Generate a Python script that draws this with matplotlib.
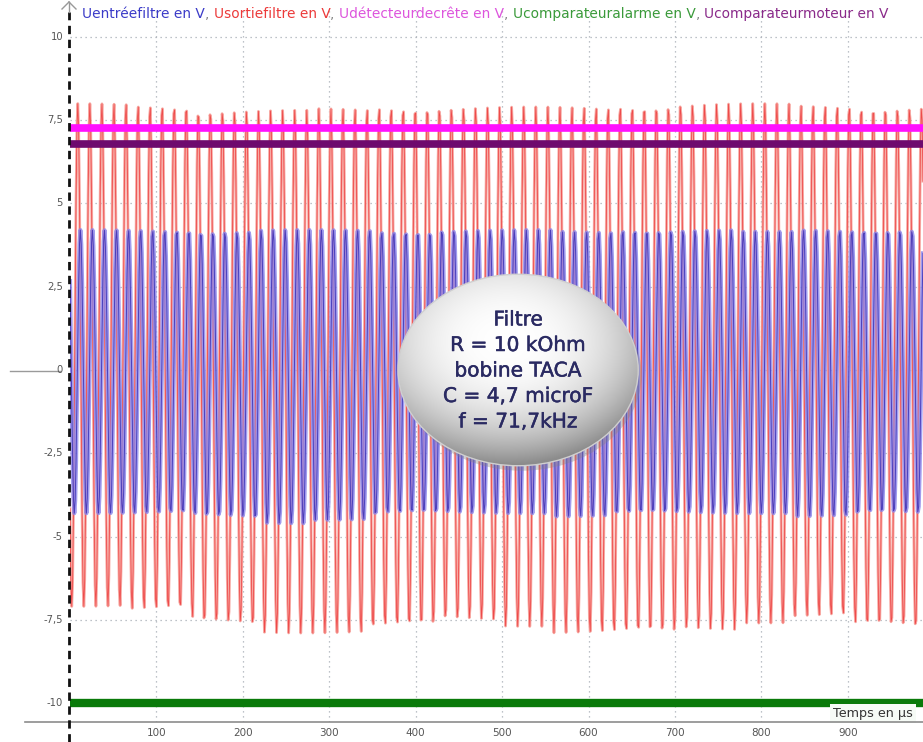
import numpy as np
import matplotlib
matplotlib.use("Agg")
import matplotlib.pyplot as plt
import matplotlib.patheffects as pe
from matplotlib.patches import Ellipse
from matplotlib.lines import Line2D

# ---------------- data ----------------
x_ticks = [100, 200, 300, 400, 500, 600, 700, 800, 900]
x_tick_labels = ["100", "200", "300", "400", "500", "600", "700", "800", "900"]
y_ticks = [-10, -7.5, -5, -2.5, 0, 2.5, 5, 7.5, 10]
y_tick_labels = ["-10", "-7,5", "-5", "-2,5", "0", "2,5", "5", "7,5", "10"]

freq_khz = 71.7            # signal frequency (from the annotation)
sample_step_us = 1.0       # acquisition step
t_end_us = 987.0
red_first_peak_us = 9.0
blue_first_peak_us = 12.0

# peak values, one value per group of 5 cycles
red_high = [8.0, 7.95, 7.8, 7.8, 7.85, 7.9, 7.9, 7.9, 7.9, 7.95, 8.0, 8.0, 7.95, 7.9, 7.9]
red_low = [-7.1, -7.2, -7.6, -7.9, -7.9, -7.7, -7.5, -7.7, -7.9, -7.9, -7.8, -7.6, -7.4, -7.7, -7.9]
blue_high = [4.2, 4.2, 4.15, 4.2, 4.2, 4.15, 4.2, 4.2, 4.15, 4.2, 4.2, 4.15, 4.2, 4.2, 4.2]
blue_low = [-4.3, -4.3, -4.4, -4.6, -4.5, -4.3, -4.3, -4.3, -4.4, -4.3, -4.3, -4.3, -4.4, -4.3, -4.3]

u_detecteur = 7.28
u_moteur = 6.78
u_alarme = -10.0

legend_parts = [
    ("Uentréefiltre en V", "#3b3bc8"),
    (", ", "#888888"),
    ("Usortiefiltre en V", "#ec3a3a"),
    (", ", "#888888"),
    ("Udétecteurdecrête en V", "#dd55dd"),
    (", ", "#888888"),
    ("Ucomparateuralarme en V", "#3a9a3a"),
    (", ", "#888888"),
    ("Ucomparateurmoteur en V", "#8a2a8a"),
]
bubble_lines = ["Filtre", "R = 10 kOhm", "bobine TACA", "C = 4,7 microF", "f = 71,7kHz"]
x_axis_title = "Temps en µs"

# ---------------- figure ----------------
W, H = 923, 742
fig = plt.figure(figsize=(W / 100, H / 100), dpi=100)
x0_px, x1_px = 70, 923
ytop_px, ybot_px = 10, 722
ax = fig.add_axes([x0_px / W, 1 - ybot_px / H, (x1_px - x0_px) / W, (ybot_px - ytop_px) / H])
ax.set_xlim(0, t_end_us)
ax.set_ylim(-10.57, 10.81)
for s in ax.spines.values():
    s.set_visible(False)
ax.set_xticks([])
ax.set_yticks([])
ax.set_facecolor("white")

# grid
for xv in x_ticks:
    ax.axvline(xv, color="#a8aeb6", lw=0.9, ls=(0, (1, 3)), zorder=1)
for yv in y_ticks:
    ax.axhline(yv, color="#a8aeb6", lw=0.9, ls=(0, (1, 3)), zorder=1)


def build_wave(high, low, first_peak):
    period = 1000.0 / freq_khz
    t = np.arange(0.0, t_end_us + sample_step_us, sample_step_us)
    ph = (t - first_peak) / period
    k = np.clip(np.floor(ph + 0.5).astype(int) // 5, 0, len(high) - 1)
    hi = np.asarray(high)[k]
    lo = np.asarray(low)[k]
    mid = (hi + lo) / 2
    half = (hi - lo) / 2
    return t, mid + half * np.cos(2 * np.pi * ph)


tr, vr = build_wave(red_high, red_low, red_first_peak_us)
tb, vb = build_wave(blue_high, blue_low, blue_first_peak_us)

ax.plot(tr, vr, color="#f7aaa4", lw=2.0, zorder=2)
ax.plot(tr, vr, color="#ee4a4a", lw=0.6, zorder=2.1)
ax.plot(tb, vb, color="#8a84ea", lw=3.0, alpha=0.8, zorder=3)
ax.plot(tb, vb, color="#3c30b4", lw=0.7, alpha=0.85, zorder=3.1)

ax.axhline(u_detecteur, color="#ff10ff", lw=5.5, zorder=4)
ax.axhline(u_moteur, color="#6e0a6e", lw=5.5, zorder=4)
ax.axhline(u_alarme, color="#0a7a0a", lw=6.0, zorder=4)

# bubble
bx, by = 518.5, 0.0
bw, bh = 278.0, 5.75
shadow = Ellipse((bx + 4, by - 0.15), bw, bh, facecolor="#808080", alpha=0.35, edgecolor="none", zorder=5)
ax.add_patch(shadow)
ny, nx = 200, 240
yy, xx = np.mgrid[1:-1:ny * 1j, -1:1:nx * 1j]
d = np.sqrt((xx + 0.1) ** 2 + ((yy - 0.3) * 1.05) ** 2)
g = 1.0 - 0.45 * np.clip(d / 1.35, 0, 1) ** 2.4
img = np.dstack([g, g, g * 1.0])
im = ax.imshow(img, extent=[bx - bw / 2, bx + bw / 2, by - bh / 2, by + bh / 2],
               aspect="auto", zorder=6, interpolation="bilinear")
clip = Ellipse((bx, by), bw, bh, facecolor="none", edgecolor="none", transform=ax.transData)
ax.add_patch(clip)
im.set_clip_path(clip)
ax.add_patch(Ellipse((bx, by), bw, bh, facecolor="none", edgecolor="#d0d0d0", lw=1.0, zorder=6.5))
ax.set_xlim(0, t_end_us)
ax.set_ylim(-10.57, 10.81)

line_px = [320, 345.5, 371, 396.5, 422]
for txt, ypx in zip(bubble_lines, line_px):
    yv = (370 - ypx) / 33.3
    t = ax.text(bx, yv, txt, ha="center", va="center", fontsize=14.5, color="#2a2a62",
                family="DejaVu Sans", zorder=7)
    t.set_path_effects([pe.withStroke(linewidth=0.35, foreground="#2a2a62")])

# axis decorations in figure coords
fig.add_artist(Line2D([25 / W, 1], [1 - ybot_px / H] * 2, color="#8c8c8c", lw=1.2))
fig.add_artist(Line2D([10 / W, 60 / W], [1 - 371 / H] * 2, color="#9a9a9a", lw=1.0))
fig.add_artist(Line2D([69 / W, 69 / W], [0, 1 - 12 / H], color="#111111", lw=2.0,
                      ls=(0, (3, 2))))
fig.add_artist(Line2D([69 / W, 69 / W], [1 - 12 / H, 1 - 2 / H], color="#999999", lw=1.0))
fig.add_artist(Line2D([62 / W, 69 / W], [1 - 9 / H, 1 - 2 / H], color="#999999", lw=1.0))
fig.add_artist(Line2D([76 / W, 69 / W], [1 - 9 / H, 1 - 2 / H], color="#999999", lw=1.0))

# tick labels
for xv, lab in zip(x_ticks, x_tick_labels):
    px = x0_px + (xv / t_end_us) * (x1_px - x0_px)
    fig.text(px / W, 1 - 733 / H, lab, ha="center", va="center", fontsize=7.5, color="#555555")
for yv, lab in zip(y_ticks, y_tick_labels):
    py = 370 - yv * 33.3
    fig.text(63 / W, 1 - py / H, lab, ha="right", va="center", fontsize=7.2, color="#555555")

ax.text(0.988, -10.0 - 0.32, x_axis_title, transform=ax.get_yaxis_transform(), ha="right",
        va="center", fontsize=9.2, color="#333333", zorder=8,
        bbox=dict(boxstyle="square,pad=0.25", facecolor="#f6fbf6", edgecolor="none"))

# legend text
fig.canvas.draw()
renderer = fig.canvas.get_renderer()
target_w = 888 - 82
fs = 9.0
texts = []
for part, col in legend_parts:
    texts.append(fig.text(0, 0, part, fontsize=fs, color=col))
total = sum(t.get_window_extent(renderer).width for t in texts)
fs = fs * target_w / total
for t in texts:
    t.remove()
xpos = 82.0
for part, col in legend_parts:
    t = fig.text(xpos / W, 1 - 14 / H, part, fontsize=fs, color=col, va="center", ha="left")
    t_w = t.get_window_extent(renderer).width
    xpos += t_w

fig.savefig("out.png", dpi=100)
